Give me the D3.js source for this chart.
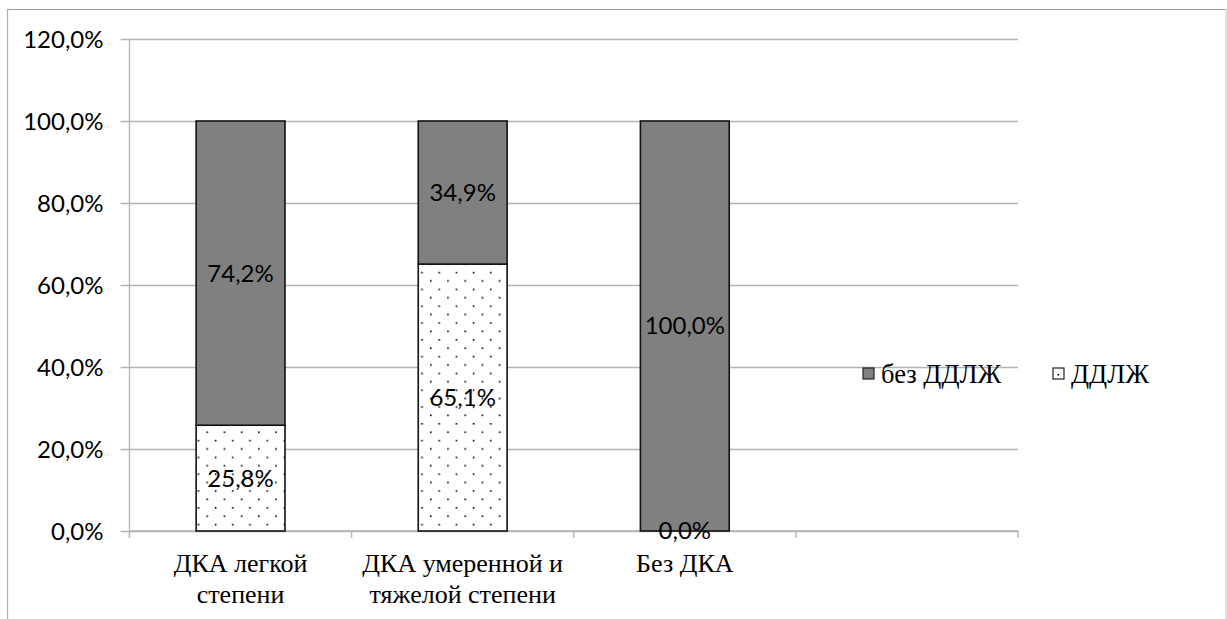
<!DOCTYPE html>
<html>
<head>
<meta charset="utf-8">
<script src="https://cdn.jsdelivr.net/npm/d3@7"></script>
<style>
  html, body { margin: 0; padding: 0; background: #fff; }
  svg { display: block; }
  .num { font-family: "Lato", "Open Sans", sans-serif; font-size: 24px; }
  .serif { font-family: "Liberation Serif", "Times New Roman", "Tinos", serif; }
</style>
</head>
<body>
<svg id="chart" width="1227" height="619"></svg>
<script>
// Categories (last slot is an empty position on the axis)
const categories = [
  ["ДКА легкой", "степени"],
  ["ДКА умеренной и", "тяжелой степени"],
  ["Без ДКА"],
  []
];
// Shares per category, as fractions
const withDdlzh    = [0.258, 0.651, 0.0];   // ДДЛЖ (bottom, dotted)
const withoutDdlzh = [0.742, 0.349, 1.0];   // без ДДЛЖ (top, grey)
const seriesNames  = ["без ДДЛЖ", "ДДЛЖ"];
const yTicks = [0, 0.2, 0.4, 0.6, 0.8, 1.0, 1.2];

(function () {
const svg = d3.select("#chart");
const fmt = v => d3.format(".1f")(v * 100).replace(".", ",") + "%";

// Dotted fill
const defs = svg.append("defs");
const pat = defs.append("pattern")
  .attr("id", "dots")
  .attr("patternUnits", "userSpaceOnUse")
  .attr("x", 0).attr("y", 3)
  .attr("width", 17.2).attr("height", 16.8);
pat.append("rect").attr("width", 17.2).attr("height", 16.8).attr("fill", "#fff");
pat.append("rect").attr("x", 8.4).attr("y", 0).attr("width", 1.6).attr("height", 1.6).attr("fill", "#000");
pat.append("rect").attr("x", 0).attr("y", 8.4).attr("width", 1.6).attr("height", 1.6).attr("fill", "#000");

// Outer frame
svg.append("line").attr("x1", 7).attr("x2", 1226).attr("y1", 9.5).attr("y2", 9.5)
  .attr("stroke", "#999").attr("stroke-width", 1.2);
svg.append("line").attr("x1", 7.5).attr("x2", 7.5).attr("y1", 9).attr("y2", 619)
  .attr("stroke", "#b0b0b0").attr("stroke-width", 1.2);
svg.append("line").attr("x1", 1226).attr("x2", 1226).attr("y1", 9).attr("y2", 619)
  .attr("stroke", "#d0d0d0").attr("stroke-width", 1.2);

// Scales
const plotLeft = 129.5, plotRight = 1018, plotTop = 39, plotBottom = 531;
const y = d3.scaleLinear().domain([0, 1.2]).range([plotBottom, plotTop]);
const x = d3.scaleBand()
  .domain(d3.range(categories.length))
  .range([plotLeft, plotRight])
  .paddingInner(0.6).paddingOuter(0.3);
const slot = d3.scaleLinear().domain([0, categories.length]).range([plotLeft, plotRight]);

// Gridlines with outward ticks
const yAxis = d3.axisLeft(y).tickValues(yTicks).tickSize(-(plotRight - plotLeft)).tickFormat(fmt).tickPadding(26);
const gy = svg.append("g").attr("transform", `translate(${plotLeft},0)`).call(yAxis);
gy.attr("font-family", null).attr("font-size", null);
gy.select(".domain").remove();
gy.selectAll(".tick line").attr("x1", -9).attr("stroke", "#b3b3b3").attr("stroke-width", 1.3);
gy.selectAll(".tick text").attr("class", "num").attr("fill", "#000").attr("dy", "0.35em");

// Vertical axis line
svg.append("line").attr("x1", plotLeft).attr("x2", plotLeft).attr("y1", plotTop).attr("y2", plotBottom + 7)
  .attr("stroke", "#b3b3b3").attr("stroke-width", 1.3);

// Category axis ticks
svg.append("g").selectAll("line")
  .data(d3.range(categories.length + 1))
  .join("line")
  .attr("x1", d => slot(d)).attr("x2", d => slot(d))
  .attr("y1", plotBottom).attr("y2", plotBottom + 7)
  .attr("stroke", "#b3b3b3").attr("stroke-width", 1.3);
svg.append("line").attr("x1", plotLeft).attr("x2", plotRight).attr("y1", plotBottom).attr("y2", plotBottom)
  .attr("stroke", "#b3b3b3").attr("stroke-width", 1.3);

// Stacked bars
const rows = withDdlzh.map((v, i) => ({ i, low: v, high: withoutDdlzh[i] }));
const bars = svg.append("g");
rows.forEach(r => {
  const x0 = x(r.i), w = x.bandwidth();
  if (r.low > 0) {
    bars.append("rect")
      .attr("x", x0).attr("y", y(r.low)).attr("width", w).attr("height", y(0) - y(r.low))
      .attr("fill", "url(#dots)").attr("stroke", "#111").attr("stroke-width", 1.6);
  }
  bars.append("rect")
    .attr("x", x0).attr("y", y(r.low + r.high)).attr("width", w).attr("height", y(r.low) - y(r.low + r.high))
    .attr("fill", "#808080").attr("stroke", "#111").attr("stroke-width", 1.6);
});

// Value labels centred in each segment
const labels = svg.append("g").attr("fill", "#000").attr("text-anchor", "middle");
rows.forEach(r => {
  const cx = x(r.i) + x.bandwidth() / 2;
  labels.append("text").attr("class", "num").attr("x", cx).attr("y", y(r.low + r.high / 2)).attr("dy", "0.35em").text(fmt(r.high));
  labels.append("text").attr("class", "num").attr("x", cx).attr("y", y(r.low / 2)).attr("dy", "0.35em").text(fmt(r.low));
});

// Category labels
const cat = svg.append("g").attr("class", "serif").style("font-size", "26px")
  .attr("fill", "#000").attr("text-anchor", "middle");
categories.forEach((lines, i) => {
  const cx = x(i) + x.bandwidth() / 2;
  const t = cat.append("text").attr("x", cx).attr("y", 572);
  lines.forEach((s, k) => t.append("tspan").attr("x", cx).attr("y", 572 + k * 31).text(s));
});

// Legend
const legend = svg.append("g").attr("class", "serif").style("font-size", "26.5px").attr("fill", "#000");
const legendItems = [
  { name: seriesNames[0], fill: "#808080", x: 863 },
  { name: seriesNames[1], fill: "#fff", x: 1053 }
];
legendItems.forEach((d, k) => {
  legend.append("rect").attr("x", d.x).attr("y", 368).attr("width", 11).attr("height", 11)
    .attr("fill", d.fill).attr("stroke", "#222").attr("stroke-width", 1.2);
  if (k === 1) {
    legend.append("rect").attr("x", d.x + 4.5).attr("y", 374).attr("width", 1.5).attr("height", 1.5).attr("fill", "#000");
  }
  legend.append("text").attr("x", d.x + 18).attr("y", 383).text(d.name);
});
})();
</script>
</body>
</html>
